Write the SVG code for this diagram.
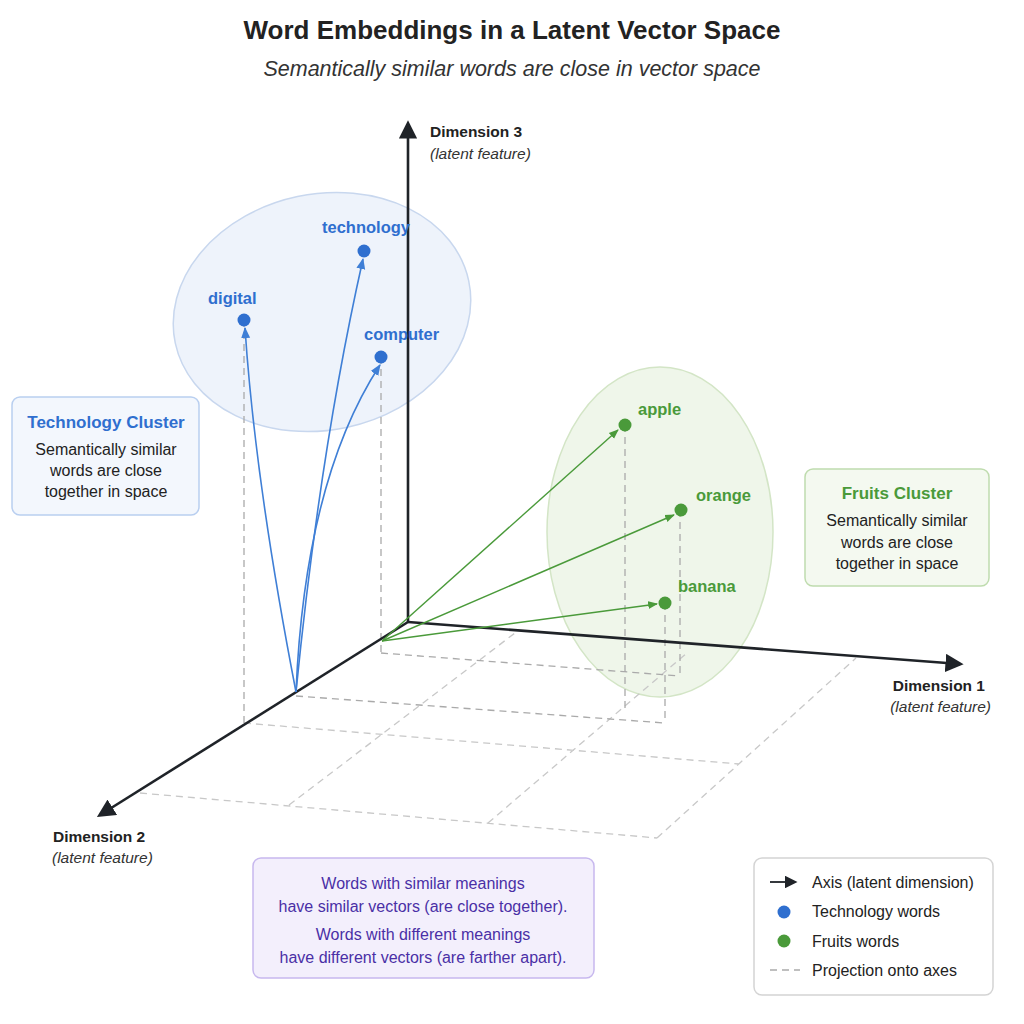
<svg xmlns="http://www.w3.org/2000/svg" width="1024" height="1024" viewBox="0 0 1024 1024">
<style>
text{font-family:"Liberation Sans",Arial,sans-serif}
.grid{stroke:#c8c8c8;stroke-width:1.3;stroke-dasharray:7 5;fill:none}
.proj{stroke:#aaa;stroke-width:1.3;stroke-dasharray:7 5;fill:none}
.axis{stroke:#1f2328;stroke-width:2.6;fill:none}
.bv{stroke:#3f7fd6;stroke-width:1.6;fill:none}
.gv{stroke:#4a9a3a;stroke-width:1.4;fill:none}
.blbl{fill:#2f6fcf;font-weight:bold;font-size:16.5px}
.glbl{fill:#4a9a3a;font-weight:bold;font-size:16.5px}
.body{fill:#222;font-size:16px}
.ax{font-size:15.5px}
</style>
<defs>
<marker id="ax" viewBox="0 0 10 10" refX="8" refY="5" markerWidth="7" markerHeight="7" orient="auto"><path d="M0,0L10,5L0,10z" fill="#1f2328"/></marker>
<marker id="ab" viewBox="0 0 10 10" refX="9" refY="5" markerWidth="7" markerHeight="7" orient="auto"><path d="M0,1L10,5L0,9z" fill="#3f7fd6"/></marker>
<marker id="ag" viewBox="0 0 10 10" refX="9" refY="5" markerWidth="7" markerHeight="7" orient="auto"><path d="M0,1L10,5L0,9z" fill="#4a9a3a"/></marker>
</defs>
<rect width="1024" height="1024" fill="#fff"/>
<text x="512" y="39" text-anchor="middle" font-size="26" font-weight="bold" fill="#222">Word Embeddings in a Latent Vector Space</text>
<text x="512" y="76" text-anchor="middle" font-size="21.5" font-style="italic" fill="#333">Semantically similar words are close in vector space</text>

<ellipse cx="322" cy="312" rx="150" ry="118" transform="rotate(-12 322 312)" fill="#eef3fb" stroke="#c8d7ee" stroke-width="1.5"/>
<ellipse cx="660" cy="532" rx="113" ry="165" fill="#eff6ea" stroke="#d3e5c6" stroke-width="1.5"/>

<g id="connectors">
<path class="grid" d="M244,723L739,764M140,793L657,838M657,838L856,658M488,823L687,653M289,805L515,633"/>
<path class="proj" d="M244,320V723M381,357V653M625,425V710M680,510V676M665,603V723M381,653L680,676M296,696L665,723"/>
<path class="axis" d="M408,622V124" marker-end="url(#ax)"/>
<path class="axis" d="M408,622L960,664" marker-end="url(#ax)"/>
<path class="axis" d="M408,622L100,815" marker-end="url(#ax)"/>
<path class="bv" d="M296,692Q255,480 245,328" marker-end="url(#ab)"/>
<path class="bv" d="M296,692Q320,450 363,259" marker-end="url(#ab)"/>
<path class="bv" d="M296,692Q305,480 380,365" marker-end="url(#ab)"/>
<path class="gv" d="M382,641L618,430" marker-end="url(#ag)"/>
<path class="gv" d="M382,641L674,515" marker-end="url(#ag)"/>
<path class="gv" d="M382,641L657,604" marker-end="url(#ag)"/>
</g>

<g id="axis-labels">
<text class="ax" x="430" y="137" font-weight="bold" fill="#222">Dimension 3</text>
<text class="ax" x="430" y="159" font-style="italic" fill="#333">(latent feature)</text>
<text class="ax" x="985" y="691" text-anchor="end" font-weight="bold" fill="#222">Dimension 1</text>
<text class="ax" x="991" y="712" text-anchor="end" font-style="italic" fill="#333">(latent feature)</text>
<text class="ax" x="53" y="842" font-weight="bold" fill="#222">Dimension 2</text>
<text class="ax" x="52" y="863" font-style="italic" fill="#333">(latent feature)</text>
</g>

<g id="digital"><circle cx="244" cy="320" r="6.5" fill="#2f6fcf"/><text class="blbl" x="208" y="304">digital</text></g>
<g id="technology"><circle cx="364" cy="251" r="6.5" fill="#2f6fcf"/><text class="blbl" x="322" y="233">technology</text></g>
<g id="computer"><circle cx="381" cy="357" r="6.5" fill="#2f6fcf"/><text class="blbl" x="364" y="340">computer</text></g>
<g id="apple"><circle cx="625" cy="425" r="6.5" fill="#4a9a3a"/><text class="glbl" x="638" y="415">apple</text></g>
<g id="orange"><circle cx="681" cy="510" r="6.5" fill="#4a9a3a"/><text class="glbl" x="696" y="501">orange</text></g>
<g id="banana"><circle cx="665" cy="603" r="6.5" fill="#4a9a3a"/><text class="glbl" x="678" y="592">banana</text></g>

<g id="tech-cluster">
<rect x="12" y="397" width="187" height="118" rx="8" fill="#f3f7fd" stroke="#b9cff0" stroke-width="1.5"/>
<text x="106" y="428" text-anchor="middle" font-size="17" font-weight="bold" fill="#2f6fcf">Technology Cluster</text>
<text class="body" x="106" y="455" text-anchor="middle">Semantically similar</text>
<text class="body" x="106" y="476" text-anchor="middle">words are close</text>
<text class="body" x="106" y="497" text-anchor="middle">together in space</text>
</g>
<g id="fruits-cluster">
<rect x="805" y="469" width="184" height="117" rx="8" fill="#f4f9f0" stroke="#bfdcae" stroke-width="1.5"/>
<text x="897" y="499" text-anchor="middle" font-size="17" font-weight="bold" fill="#4a9a3a">Fruits Cluster</text>
<text class="body" x="897" y="526" text-anchor="middle">Semantically similar</text>
<text class="body" x="897" y="548" text-anchor="middle">words are close</text>
<text class="body" x="897" y="569" text-anchor="middle">together in space</text>
</g>
<g id="note">
<rect x="253" y="858" width="341" height="120" rx="8" fill="#f3effc" stroke="#c7b8ee" stroke-width="1.5"/>
<text x="423" y="889" text-anchor="middle" font-size="16" fill="#4a2fa6">Words with similar meanings</text>
<text x="423" y="912" text-anchor="middle" font-size="16" fill="#4a2fa6">have similar vectors (are close together).</text>
<text x="423" y="940" text-anchor="middle" font-size="16" fill="#4a2fa6">Words with different meanings</text>
<text x="423" y="963" text-anchor="middle" font-size="16" fill="#4a2fa6">have different vectors (are farther apart).</text>
</g>
<g id="legend">
<rect x="754" y="858" width="239" height="137" rx="8" fill="#fff" stroke="#d4d4d4" stroke-width="1.5"/>
<path d="M770,882H795" stroke="#1f2328" stroke-width="1.8" marker-end="url(#ax)"/>
<text x="812" y="888" font-size="16" fill="#222">Axis (latent dimension)</text>
<circle cx="784" cy="912" r="6.5" fill="#2f6fcf"/>
<text x="812" y="917" font-size="16" fill="#222">Technology words</text>
<circle cx="784" cy="941" r="6.5" fill="#4a9a3a"/>
<text x="812" y="947" font-size="16" fill="#222">Fruits words</text>
<path d="M770,970H800" class="proj"/>
<text x="812" y="976" font-size="16" fill="#222">Projection onto axes</text>
</g>
</svg>
